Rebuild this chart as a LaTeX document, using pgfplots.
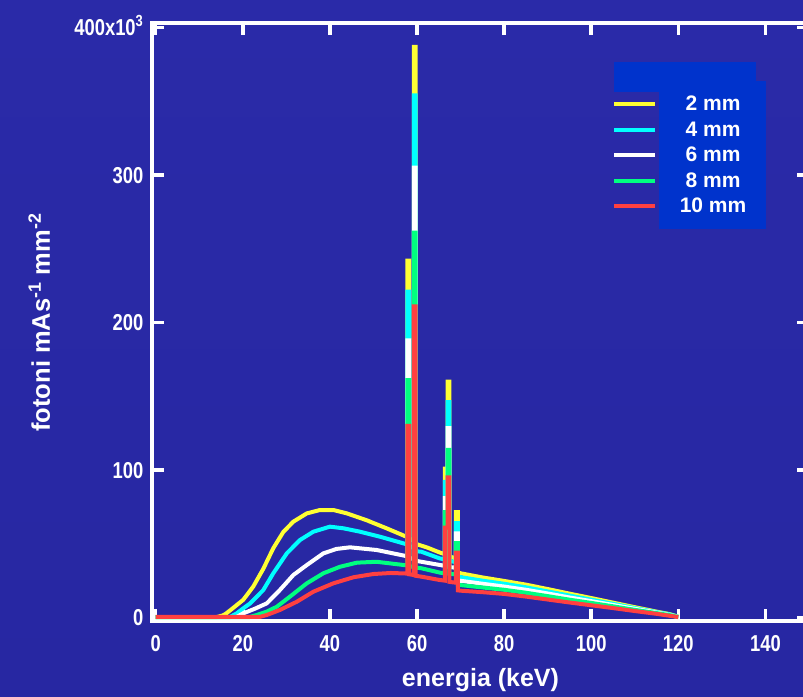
\documentclass[border=0pt]{standalone}
\usepackage{graphicx}
\usepackage{fontspec}
\setmainfont{Liberation Sans}
\usepackage{pgfplots}
\pgfplotsset{compat=1.18}

\definecolor{bgtop}{HTML}{2A2AA8}
\definecolor{bgmid}{HTML}{3535CA}
\definecolor{bgbot}{HTML}{2727A2}
\definecolor{legbox}{HTML}{0033CC}
\definecolor{c2}{HTML}{FFFF33}
\definecolor{c4}{HTML}{00FFFF}
\definecolor{c6}{HTML}{FFFFFF}
\definecolor{c8}{HTML}{00FF80}
\definecolor{c10}{HTML}{FF4040}

% condensed tick numbers
\newcommand\tl[1]{\scalebox{0.8}[1]{#1}}

% spectra (energy in keV, photons per mAs per mm^2 in thousands)
\pgfplotstableread{
x y
0 0.3
14 0.3
15.5 1.5
16.3 3
18 7
20.1 12
22.4 21
24.7 33
27 47
29.3 58
31.6 65
34.7 70.6
37.7 72.9
40.8 72.9
43.9 70.6
48.4 66
53 60.5
57.8 54.5
57.8 242
58.2 242
58.2 53.5
59.3 52
59.3 387
59.7 387
59.7 50
60.7 49
62.3 47.5
65.3 44
66.4 43
66.4 101
67.0 101
67.0 160
67.4 160
67.4 41.5
68.9 40
68.9 71.5
69.4 71.5
69.4 30.5
70 30
75 27.2
80 24.8
85 22.3
90 19.3
95 16.2
100 13.2
105 10.1
110 7
115 4
118 2.3
120 0.5
}\mmtwo

\pgfplotstableread{
x y
0 0.3
17 0.3
18.6 2.8
20 6
21.7 9.6
24.7 18.6
27 30
30.1 43.5
33.1 52.5
36.2 58.2
40 61.6
43.1 60.5
46.9 58.2
51.5 54.8
57.8 49.5
57.8 221
58.2 221
58.2 48.5
59.3 47
59.3 354
59.7 354
59.7 45
61 44.6
65.3 40
66.4 39.5
66.4 92
67.0 92
67.0 146
67.4 146
67.4 38.5
68.9 37.5
68.9 64
69.4 64
69.4 27.6
70 27.4
75 25.0
80 22.9
85 20.5
90 17.7
95 14.9
100 12.1
105 9.3
110 6.4
115 3.7
118 2.1
120 0.5
}\mmfour

\pgfplotstableread{
x y
0 0.3
18.5 0.3
20.1 2.8
22.8 6
25.5 9.6
28.5 18.6
31.6 28.8
34.7 35.6
38.5 43.5
41.5 46.5
44.6 47.6
50.7 45.8
57.8 41.5
57.8 188
58.2 188
58.2 40.5
59.3 39.5
59.3 305
59.7 305
59.7 38.5
61 37.8
65.3 35.6
66.4 35
66.4 81
67.0 81
67.0 128.5
67.4 128.5
67.4 34.3
68.9 33.7
68.9 57
69.4 57
69.4 25.1
70 24.9
75 22.9
80 21.0
85 18.8
90 16.3
95 13.6
100 11.1
105 8.5
110 5.9
115 3.4
118 1.8
120 0.4
}\mmsix

\pgfplotstableread{
x y
0 0.3
21.5 0.3
23.2 1.7
25.5 4
27.8 7.3
30.8 14.1
34.7 23.2
38.5 30
42.3 34.4
46.2 37.2
50.7 37.8
57.8 35.3
57.8 161
58.2 161
58.2 34.8
59.3 34.2
59.3 261
59.7 261
59.7 33.8
61 33.4
65.3 30.4
66.4 30
66.4 71.5
67.0 71.5
67.0 113.6
67.4 113.6
67.4 29.7
68.9 29.2
68.9 50.5
69.4 50.5
69.4 22.2
70 22.0
75 20.4
80 18.8
85 16.8
90 14.5
95 12.1
100 9.9
105 7.6
110 5.2
115 3.0
118 1.6
120 0.4
}\mmeight

\pgfplotstableread{
x y
0 0.5
24 0.5
25.5 1.7
28.5 5.1
32.4 10.7
36.2 17.5
40.8 23.2
45.4 27.3
50 29.5
54 30.2
57.8 29.8
57.8 130
58.2 130
58.2 29.3
59.3 28.8
59.3 211
59.7 211
59.7 28.3
61 27.7
65.3 25.4
66.4 25
66.4 61
67.0 61
67.0 95
67.4 95
67.4 24.2
68.9 23.6
68.9 44
69.4 44
69.4 18.4
70 18.2
75 17.2
80 16
85 14.2
90 12.2
95 10.2
100 8.3
105 6.4
110 4.4
115 2.5
118 1.2
120 0.3
}\mmten

\begin{document}
\begin{tikzpicture}[x=1pt,y=1pt]
% slide background and legend panel
\shade[top color=bgtop, middle color=bgmid, bottom color=bgbot] (0,0) rectangle (803,696);
\fill[legbox] (614,604) rectangle (756,634);
\fill[legbox] (659,467) rectangle (766,615);
\begin{axis}[
  at={(152pt,74.5pt)}, anchor=south west,
  scale only axis, width=657pt, height=598pt,
  xmin=-0.85, xmax=150, ymin=-2.7, ymax=402.8,
  axis line style={white, line width=4pt},
  tick align=inside,
  major tick length=12pt,
  every tick/.style={white, line width=3.5pt},
  xtick={0,20,40,60,80,100,120,140},
  xticklabels={\tl{0},\tl{20},\tl{40},\tl{60},\tl{80},\tl{100},\tl{120},\tl{140}},
  ytick={0,100,200,300,400},
  yticklabels={\tl{0},\tl{100},\tl{200},\tl{300},\tl{400x10\textsuperscript{3}}},
  xticklabel style={text=white, font=\fontsize{23}{23}\selectfont\bfseries,
    anchor=north, inner sep=0pt, yshift=-13.5pt},
  yticklabel style={text=white, font=\fontsize{23}{23}\selectfont\bfseries,
    anchor=base east, inner sep=0pt, xshift=-8.5pt, yshift=-8.25pt},
  xlabel={energia (keV)},
  xlabel style={at={(axis description cs:0.5,-0.1095)}, anchor=base,
    text=white, inner sep=0pt, font=\fontsize{25}{30}\selectfont\bfseries},
  ylabel={fotoni mAs\textsuperscript{-1} mm\textsuperscript{-2}},
  ylabel style={at={(axis description cs:-0.1553,0.5)}, anchor=base, rotate=0,
    text=white, inner sep=0pt, font=\fontsize{25.5}{30}\selectfont\bfseries},
  legend style={at={(axis description cs:0.7002,0.8865)}, anchor=north west,
    draw=none, fill=none, inner sep=0pt, outer sep=0pt,
    row sep=0pt, column sep=0pt,
    font=\fontsize{21}{21}\selectfont\bfseries,
    cells={anchor=west},
    nodes={inner sep=0pt, minimum height=25.5pt, text=white}},
  legend image code/.code={\draw[#1] (0pt,0pt) -- (41pt,0pt);},
  line join=miter,
]
\addplot[c2, line width=4pt] table {\mmtwo};
\addlegendentry{\makebox[112pt]{2 mm}}
\addplot[c4, line width=4pt] table {\mmfour};
\addlegendentry{\makebox[112pt]{4 mm}}
\addplot[c6, line width=4pt] table {\mmsix};
\addlegendentry{\makebox[112pt]{6 mm}}
\addplot[c8, line width=4pt] table {\mmeight};
\addlegendentry{\makebox[112pt]{8 mm}}
\addplot[c10, line width=4pt] table {\mmten};
\addlegendentry{\makebox[112pt]{10 mm}}
\end{axis}
\pgfresetboundingbox
\useasboundingbox (0,0) rectangle (803,696);
\end{tikzpicture}
\end{document}
